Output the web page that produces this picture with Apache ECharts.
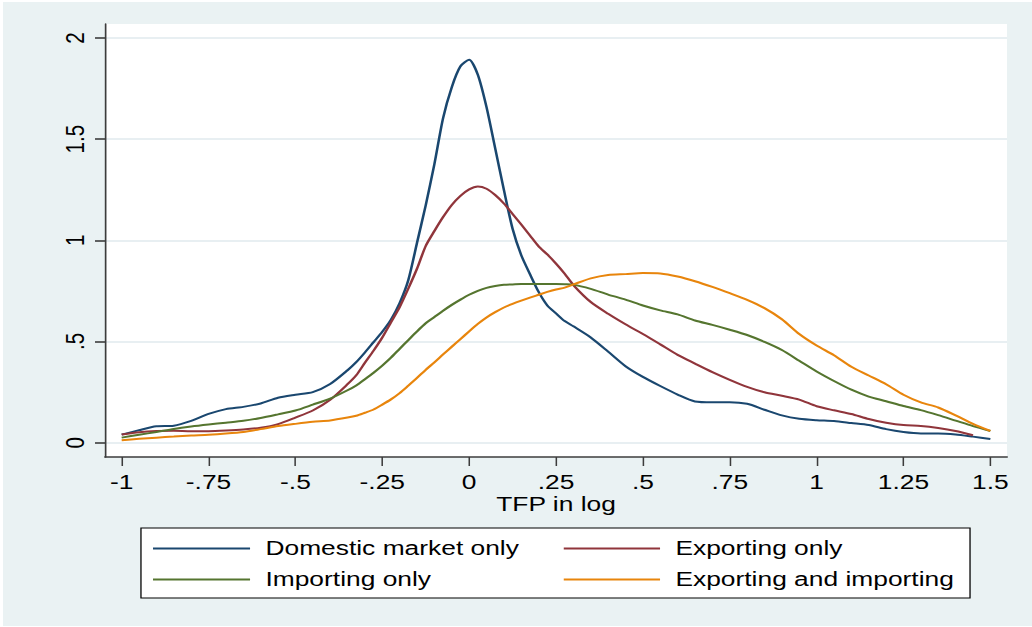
<!DOCTYPE html>
<html>
<head>
<meta charset="utf-8">
<title>TFP kernel densities</title>
<script src="https://cdn.jsdelivr.net/npm/echarts@6/dist/echarts.min.js"></script>
<style>
  html, body { margin: 0; padding: 0; width: 1032px; height: 627px; overflow: hidden; background: #fff; }
  #panel { position: absolute; left: 3px; top: 2px; right: 0; bottom: 1px; background: #eaf2f3; }
  /* the graph is laid out on a narrower canvas and widened to the page */
  #chart { position: absolute; left: 0; top: 0; width: 806px; height: 627px;
           transform: scaleX(1.280397); transform-origin: 0 0; }
</style>
</head>
<body>
<div id="panel"></div>
<div id="chart"></div>
<script>
// Evaluation grid of log TFP
const tfp = [-1, -0.95, -0.9, -0.85, -0.8, -0.75, -0.7, -0.65, -0.6, -0.55, -0.5, -0.45, -0.4, -0.35,
  -0.325, -0.3, -0.275, -0.25, -0.225, -0.2, -0.175, -0.15, -0.125, -0.1, -0.075, -0.05, -0.025,
  0, 0.025, 0.05, 0.075, 0.1, 0.125, 0.15, 0.175, 0.2, 0.225, 0.25, 0.275, 0.3,
  0.35, 0.4, 0.45, 0.5, 0.55, 0.6, 0.65, 0.7, 0.75, 0.8, 0.85, 0.9, 0.95, 1,
  1.05, 1.1, 1.15, 1.2, 1.25, 1.3, 1.35, 1.4, 1.45, 1.5];

// Kernel density estimates by firm type
const domesticOnly = [0.040, 0.062, 0.081, 0.084, 0.108, 0.142, 0.166, 0.177, 0.194, 0.222, 0.237, 0.250, 0.290, 0.358,
  0.398, 0.446, 0.497, 0.548, 0.608, 0.690, 0.804, 0.988, 1.173, 1.377, 1.604, 1.757, 1.860,
  1.892, 1.818, 1.658, 1.454, 1.249, 1.057, 0.926, 0.833, 0.745, 0.678, 0.639, 0.601, 0.575,
  0.520, 0.450, 0.378, 0.325, 0.280, 0.238, 0.204, 0.200, 0.200, 0.192, 0.163, 0.135, 0.118, 0.111,
  0.107, 0.097, 0.087, 0.067, 0.053, 0.046, 0.046, 0.041, 0.030, 0.018];

const exportingOnly = [0.040, 0.052, 0.058, 0.059, 0.057, 0.057, 0.060, 0.065, 0.074, 0.092, 0.124, 0.159, 0.212, 0.289,
  0.333, 0.395, 0.455, 0.520, 0.595, 0.670, 0.762, 0.860, 0.972, 1.046, 1.115, 1.175, 1.220,
  1.252, 1.266, 1.255, 1.224, 1.182, 1.130, 1.078, 1.024, 0.970, 0.930, 0.885, 0.835, 0.779,
  0.695, 0.637, 0.585, 0.537, 0.486, 0.434, 0.391, 0.349, 0.311, 0.276, 0.249, 0.232, 0.213, 0.180,
  0.160, 0.142, 0.117, 0.099, 0.087, 0.083, 0.073, 0.058, 0.037, null];

const importingOnly = [0.025, 0.039, 0.053, 0.068, 0.080, 0.090, 0.099, 0.108, 0.122, 0.140, 0.159, 0.188, 0.218, 0.259,
  0.283, 0.314, 0.346, 0.381, 0.420, 0.464, 0.507, 0.550, 0.590, 0.621, 0.652, 0.681, 0.707,
  0.731, 0.750, 0.765, 0.774, 0.780, 0.782, 0.784, 0.784, 0.784, 0.784, 0.784, 0.783, 0.781,
  0.760, 0.732, 0.707, 0.678, 0.654, 0.634, 0.604, 0.582, 0.558, 0.532, 0.498, 0.458, 0.405, 0.352,
  0.305, 0.262, 0.228, 0.205, 0.181, 0.161, 0.136, 0.109, 0.082, 0.058];

const exportingAndImporting = [0.012, 0.019, 0.025, 0.030, 0.035, 0.039, 0.045, 0.053, 0.067, 0.082, 0.093, 0.103, 0.110, 0.124,
  0.133, 0.148, 0.164, 0.188, 0.214, 0.245, 0.282, 0.320, 0.360, 0.397, 0.436, 0.474, 0.512,
  0.550, 0.587, 0.619, 0.645, 0.668, 0.686, 0.702, 0.717, 0.731, 0.745, 0.757, 0.766, 0.782,
  0.812, 0.829, 0.833, 0.838, 0.836, 0.821, 0.798, 0.770, 0.739, 0.706, 0.665, 0.610, 0.537, 0.480,
  0.432, 0.375, 0.332, 0.289, 0.237, 0.199, 0.174, 0.135, 0.093, 0.058];

const seriesNames = ['Domestic market only', 'Exporting only', 'Importing only', 'Exporting and importing'];
const seriesColors = ['#1a476f', '#90353b', '#55752f', '#e8850c'];

const xTickValues = [-1, -0.75, -0.5, -0.25, 0, 0.25, 0.5, 0.75, 1, 1.25, 1.5];
const xTickLabels = ['-1', '-.75', '-.5', '-.25', '0', '.25', '.5', '.75', '1', '1.25', '1.5'];
const yTickValues = [0, 0.5, 1, 1.5, 2];
const yTickLabels = ['0', '.5', '1', '1.5', '2'];

const FONT = '"Liberation Sans", Arial, Helvetica, sans-serif';
const FONT_SIZE = 20.6;
const AXIS_COLOR = '#3c3c3c';

function tickText(values, labels) {
  return function (v) {
    for (let i = 0; i < values.length; i++) {
      if (Math.abs(values[i] - v) < 1e-9) return labels[i];
    }
    return '';
  };
}

function pairs(ys) {
  const out = [];
  for (let i = 0; i < tfp.length; i++) {
    if (ys[i] !== null && ys[i] !== undefined) out.push([tfp[i], ys[i]]);
  }
  return out;
}

const densities = [domesticOnly, exportingOnly, importingOnly, exportingAndImporting];

const legendText = { fontSize: FONT_SIZE, color: '#000', fontFamily: FONT, padding: [0, 0, 0, 7] };

const chart = echarts.init(document.getElementById('chart'), null, { renderer: 'svg', width: 806, height: 627 });

chart.setOption({
  animation: false,
  textStyle: { fontFamily: FONT },
  grid: {
    left: 82, right: 19.5, top: 24, bottom: 170,
    show: true, backgroundColor: '#ffffff', borderWidth: 0,
    containLabel: false, outerBoundsMode: 'none'
  },
  xAxis: {
    type: 'value',
    min: -1.048, max: 1.548,
    name: 'TFP in log',
    nameLocation: 'middle',
    nameGap: 37,
    nameMoveOverlap: false,
    nameTextStyle: { fontSize: FONT_SIZE, color: '#000', fontFamily: FONT },
    axisLine: { show: true, onZero: false, lineStyle: { color: AXIS_COLOR, width: 1.6 } },
    axisTick: { show: true, length: 9, customValues: xTickValues, lineStyle: { color: AXIS_COLOR, width: 1.2 } },
    axisLabel: {
      customValues: xTickValues, formatter: tickText(xTickValues, xTickLabels),
      margin: 15, fontSize: FONT_SIZE, color: '#000', fontFamily: FONT
    },
    splitLine: { show: false }
  },
  yAxis: {
    type: 'value',
    min: -0.0707, max: 2.069,
    axisLine: { show: true, onZero: false, lineStyle: { color: AXIS_COLOR, width: 1.3 } },
    axisTick: { show: true, length: 7.8, customValues: yTickValues, lineStyle: { color: AXIS_COLOR, width: 1.6 } },
    axisLabel: {
      customValues: yTickValues, formatter: tickText(yTickValues, yTickLabels),
      rotate: 90, margin: 13, fontSize: FONT_SIZE, color: '#000', fontFamily: FONT
    },
    splitLine: { show: true, lineStyle: { color: '#e8eff2', width: 2 } }
  },
  legend: [
    {
      data: [seriesNames[0], seriesNames[2]],
      orient: 'vertical', left: 119.5, top: 538, padding: 0,
      itemWidth: 75.8, itemHeight: 2, itemGap: 10, icon: 'rect',
      selectedMode: false, textStyle: legendText
    },
    {
      data: [seriesNames[1], seriesNames[3]],
      orient: 'vertical', left: 440.3, top: 538, padding: 0,
      itemWidth: 75.2, itemHeight: 2, itemGap: 10, icon: 'rect',
      selectedMode: false, textStyle: legendText
    }
  ],
  graphic: [
    {
      type: 'rect', z: 0, silent: true,
      shape: { x: 110.1, y: 528, width: 647.5, height: 70 },
      style: { fill: '#ffffff', stroke: '#000000', lineWidth: 1 }
    }
  ],
  series: densities.map((ys, i) => ({
    name: seriesNames[i],
    type: 'line',
    data: pairs(ys),
    showSymbol: false,
    smooth: 0.25,
    color: seriesColors[i],
    lineStyle: { color: seriesColors[i], width: 2 },
    emphasis: { disabled: true }
  }))
});
</script>
</body>
</html>
